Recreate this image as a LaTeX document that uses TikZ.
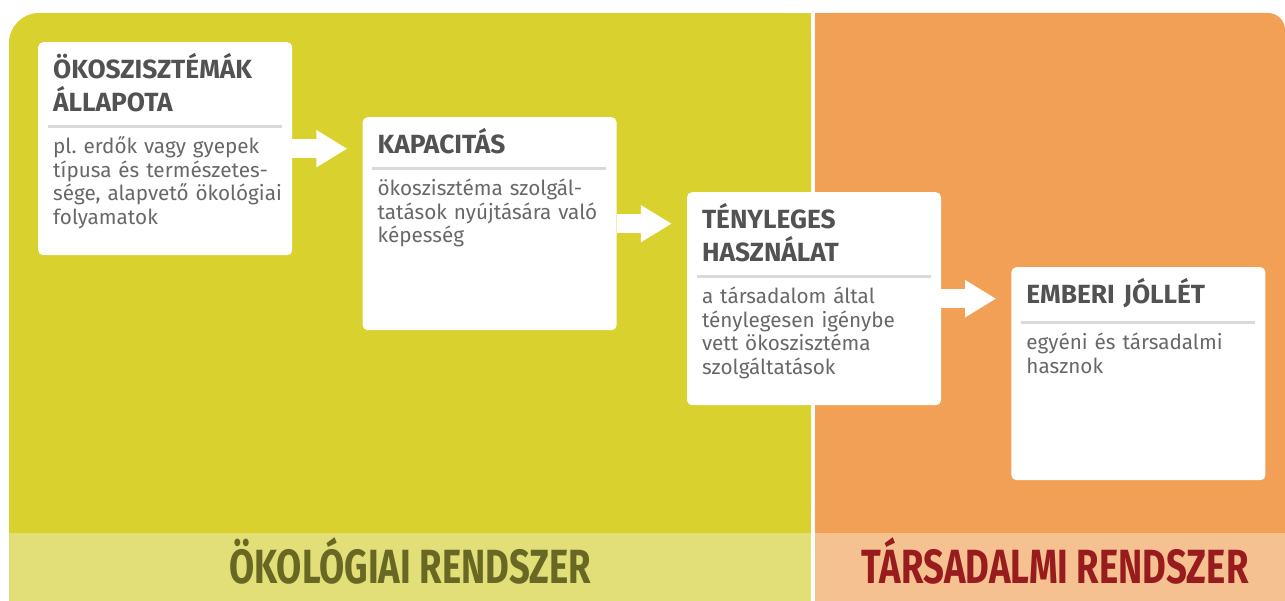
\documentclass[tikz,border=0pt]{standalone}
\usepackage{fontspec}
\setmainfont{Fira Sans}
\newfontfamily\labelfont{Fira Sans}[FakeStretch=0.76]
\usetikzlibrary{positioning,calc,arrows.meta}
\definecolor{ecomain}{RGB}{216,209,46}
\definecolor{ecolight}{RGB}{227,223,120}
\definecolor{socmain}{RGB}{241,160,86}
\definecolor{soclight}{RGB}{245,193,145}
\definecolor{ecotext}{RGB}{104,104,36}
\definecolor{soctext}{RGB}{152,28,30}
\definecolor{titlegray}{RGB}{82,82,82}
\definecolor{bodygray}{RGB}{104,104,104}
\definecolor{rulegray}{RGB}{217,217,217}

\begin{document}
\begin{tikzpicture}[x=1pt, y=-1pt,
    box/.style={fill=white, rounded corners=5pt, minimum width=254pt, minimum height=213pt, inner sep=0pt, anchor=north west},
    head/.style={anchor=base west, align=left, text width=236pt, inner sep=0pt, text=titlegray, font=\fontsize{26.3}{33}\selectfont\bfseries},
    body/.style={anchor=base west, align=left, text width=236pt, inner sep=0pt, text=bodygray, font=\fontsize{20.7}{23.5}\selectfont},
    sep/.style={draw=rulegray, line width=3pt},
    flow/.style={draw=white, line width=19pt, -{Triangle[length=31pt, width=35pt]}, shorten >=15pt},
    strip/.style={anchor=north west, inner sep=0pt, minimum height=68pt, text height=33pt, text depth=0pt, font=\labelfont\fontsize{48}{48}\selectfont\bfseries}]
    \useasboundingbox (0,0) rectangle (1285,601);

    \fill[ecomain, rounded corners=30pt] (9,13) rectangle (811,533);
    \fill[ecomain] (100,13) rectangle (811,533);
    \fill[ecomain] (9,100) rectangle (811,533);
    \fill[socmain, rounded corners=17pt] (815,13) rectangle (1285,533);
    \fill[socmain] (815,13) rectangle (1200,533);
    \fill[socmain] (815,60) rectangle (1285,533);

    \node[strip, fill=ecolight, minimum width=802pt, text=ecotext] (OR) at (9,533) {ÖKOLÓGIAI RENDSZER};
    \node[strip, fill=soclight, minimum width=470pt, text=soctext] (TR) at (815,533) {\hspace*{10pt}TÁRSADALMI RENDSZER};

    \node[box] (OA) at (38,42) {};
    \node[box, below right=75pt and 70pt of OA.north east] (KAP) {};
    \node[box, below right=75pt and 70pt of KAP.north east] (TH) {};
    \node[box, below right=75pt and 70pt of TH.north east] (EJ) {};

    \node[head] (OA-h) at ($(OA.north west)+(15,37)$) {ÖKOSZISZTÉMÁK\\ÁLLAPOTA};
    \draw[sep] ($(OA.west |- OA-h.south)+(10,14)$) -- ++(234,0);
    \node[body] (OA-b) at ($(OA.west |- OA-h.south)+(15,41)$) {pl.\ erdők vagy gyepek\\típusa és természetes-\\sége, alapvető ökológiai\\folyamatok};

    \node[head] (KAP-h) at ($(KAP.north west)+(15,37)$) {KAPACITÁS};
    \draw[sep] ($(KAP.west |- KAP-h.south)+(10,14)$) -- ++(234,0);
    \node[body] (KAP-b) at ($(KAP.west |- KAP-h.south)+(15,41)$) {ökoszisztéma szolgál-\\tatások nyújtására való\\képesség};

    \node[head] (TH-h) at ($(TH.north west)+(15,37)$) {TÉNYLEGES\\HASZNÁLAT};
    \draw[sep] ($(TH.west |- TH-h.south)+(10,14)$) -- ++(234,0);
    \node[body] (TH-b) at ($(TH.west |- TH-h.south)+(15,41)$) {a társadalom által\\ténylegesen igénybe\\vett ökoszisztéma\\szolgáltatások};

    \node[head] (EJ-h) at ($(EJ.north west)+(15,37)$) {EMBERI JÓLLÉT};
    \draw[sep] ($(EJ.west |- EJ-h.south)+(10,14)$) -- ++(234,0);
    \node[body] (EJ-b) at ($(EJ.west |- EJ-h.south)+(15,41)$) {egyéni és társadalmi\\hasznok};

    \draw[flow] (OA.east) -- (OA.east -| KAP.west);
    \draw[flow] (KAP.east) -- (KAP.east -| TH.west);
    \draw[flow] (TH.east) -- (TH.east -| EJ.west);
\end{tikzpicture}
\end{document}
